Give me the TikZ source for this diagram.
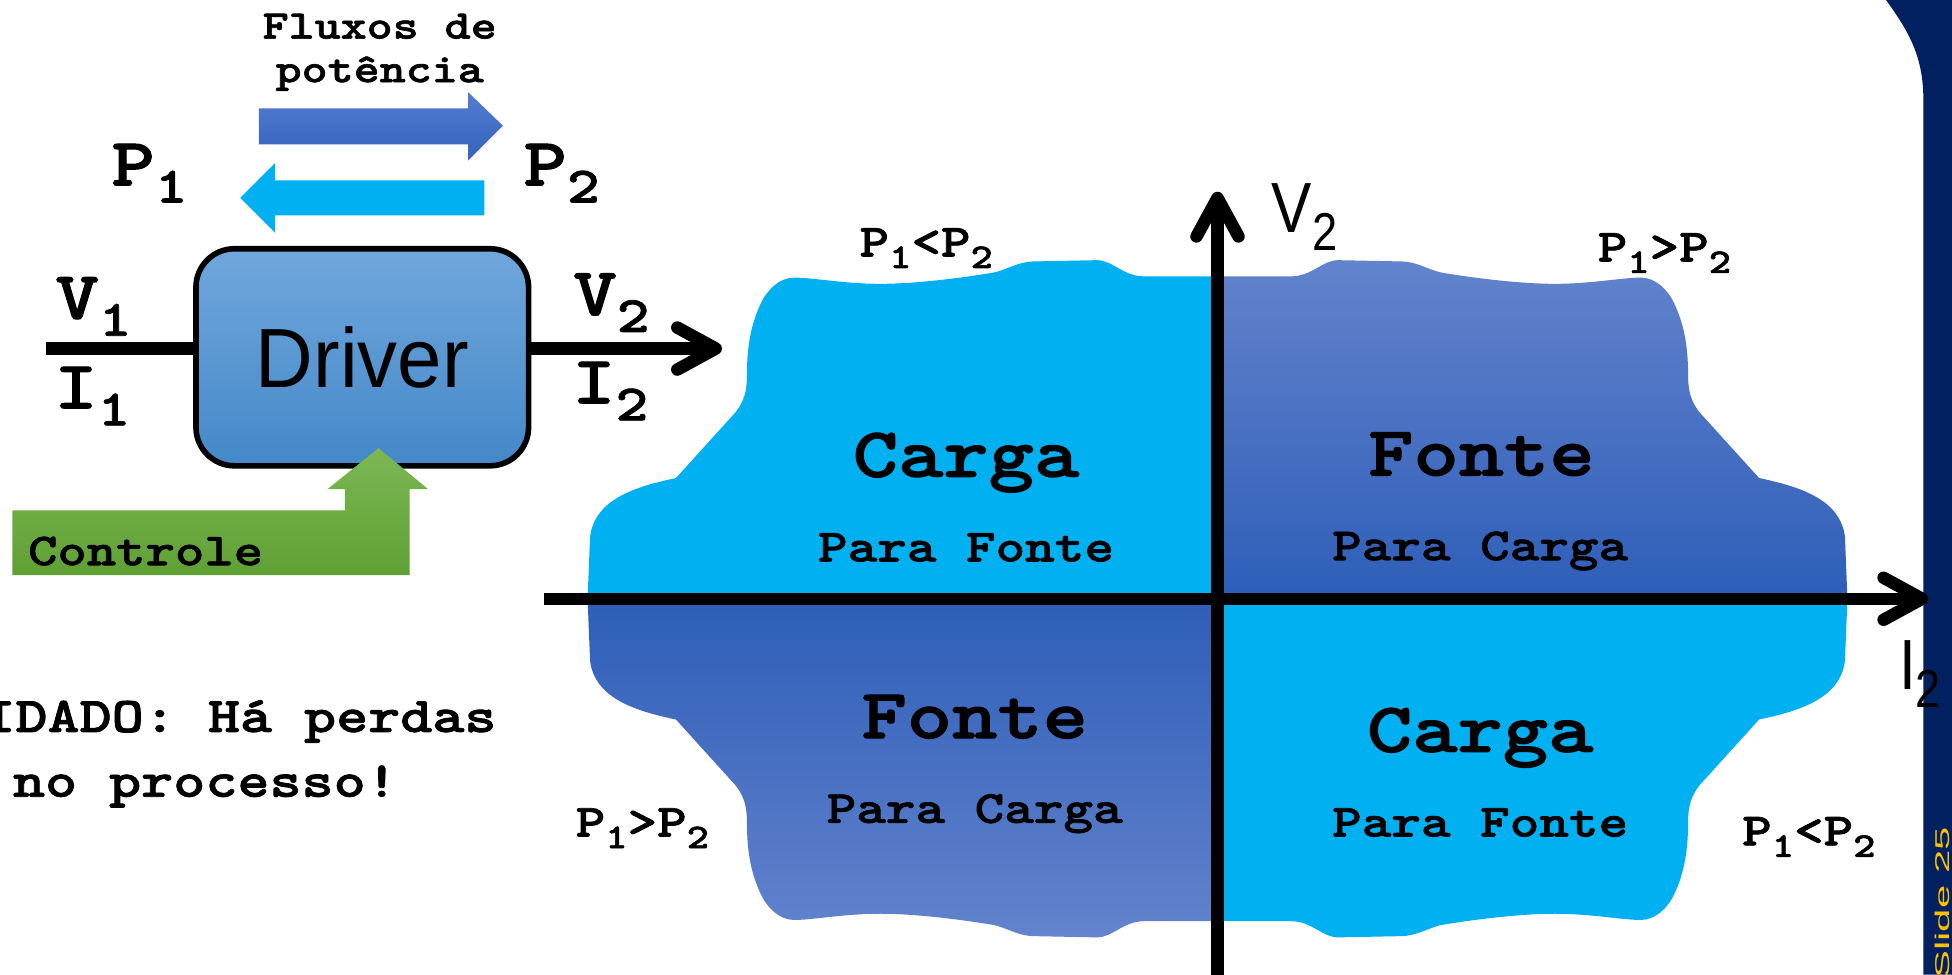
\documentclass[tikz,border=0pt]{standalone}
\usepackage{fontspec}
\usepackage{graphicx}
\usetikzlibrary{arrows.meta}
\newfontfamily\cour[BoldFont=lmmonolt10-bold.otf, BoldFeatures={FakeBold=1.5}, FakeStretch=1.22]{lmmono10-regular.otf}
\newfontfamily\drvfont[FakeStretch=0.95]{Liberation Sans}
\newfontfamily\axfont[FakeStretch=0.85]{Liberation Sans}
\newfontfamily\slidefont[FakeStretch=2.1]{Liberation Sans}
\newcommand\sbs[1]{\raisebox{-0.25em}{\scalebox{0.75}{#1}}}
\definecolor{cyanq}{RGB}{0,176,240}
\definecolor{blueTop}{RGB}{99,131,205}
\definecolor{blueBot}{RGB}{46,94,184}
\definecolor{drvTop}{RGB}{112,167,220}
\definecolor{drvBot}{RGB}{68,136,200}
\definecolor{grnTop}{RGB}{124,183,84}
\definecolor{grnBot}{RGB}{95,160,52}
\definecolor{flowTop}{RGB}{82,125,208}
\definecolor{flowBot}{RGB}{55,98,190}
\definecolor{navy}{RGB}{0,32,96}
\definecolor{slideYel}{RGB}{255,192,0}
% one quarter of the operating region (first quadrant)
\def\quadpath{(0,0) -- (0,259) -- (59,259) .. controls (76,259) and (84,272) .. (97,272)
  -- (147,271) .. controls (160,271) and (170,264) .. (180,262)
  .. controls (210,257) and (245,253) .. (271,253) .. controls (300,253) and (325,258) .. (340,258)
  .. controls (352,258) and (362,248) .. (367,237) .. controls (374,222) and (378,205) .. (378,180)
  .. controls (378,165) and (381,158) .. (387,150) -- (435,97)
  .. controls (468,90) and (500,80) .. (504,50) -- (506,0) -- cycle}

\begin{document}
\begin{tikzpicture}[
    x=0.0125cm, y=-0.0125cm,
    txt/.style={inner sep=0pt, anchor=base, font=\cour\bfseries\fontsize{#1}{#1}\selectfont},
    sig/.style={txt=19.4, anchor=base west},
    quadbig/.style={txt=20.2},
    quadsub/.style={txt=13.2},
    rel/.style={txt=13.2},
    axislbl/.style={inner sep=0pt, anchor=base west, font=\axfont\fontsize{20.3}{20.3}\selectfont},
    wire/.style={line width=3.56pt},
    axisline/.style={line width=3.56pt, -{Straight Barb[length=11pt,width=12pt,round]}},
    drvbox/.style={draw, line width=1.6pt, rounded corners=11pt, minimum width=95pt, minimum height=62pt,
      top color=drvTop, bottom color=drvBot, font=\drvfont\fontsize{24}{24}\selectfont},
  ]
    \useasboundingbox (0,0) rectangle (1568,783);
    \clip (0,0) rectangle (1568,783);
    \fill[white] (0,0) rectangle (1568,783);

    % Slide band
    \fill[navy] (1515,0) .. controls (1533,25) and (1545,45) .. (1545,80) -- (1545,783) -- (1568,783) -- (1568,0) -- cycle;
    \node[inner sep=0pt, rotate=90, anchor=base east, text=slideYel, font=\slidefont\fontsize{5.7}{5.7}\selectfont] (slide) at (1566,664) {Slide 25};

    % Quadrants
    \begin{scope}[shift={(978,481)}, yscale=-1]
      \shade[top color=blueTop, bottom color=blueBot] \quadpath;
    \end{scope}
    \begin{scope}[shift={(978,481)}, xscale=-1, yscale=-1]
      \fill[cyanq] \quadpath;
    \end{scope}
    \begin{scope}[shift={(978,481)}]
      \fill[cyanq] \quadpath;
    \end{scope}
    \begin{scope}[shift={(978,481)}, xscale=-1]
      \shade[top color=blueBot, bottom color=blueTop] \quadpath;
    \end{scope}

    % Axes
    \coordinate (hl) at (437,481);
    \coordinate (hr) at (1549,481);
    \coordinate (vb) at (978,800);
    \coordinate (vt) at (978,154);
    \draw[axisline] (hl) -- (hr);
    \draw[axisline] (vb) -- (vt);
    \node[axislbl] (vax) at (1021,187) {V\sbs{2}};
    \node[axislbl] (iax) at (1525,554) {I\sbs{2}};

    % Quadrant texts
    \node[quadbig] (cargaTL) at (776,383) {Carga};
    \node[quadsub] (paraTL) at (776,451) {Para Fonte};
    \node[quadbig] (fonteTR) at (1190,382) {Fonte};
    \node[quadsub] (paraTR) at (1189,450) {Para Carga};
    \node[quadbig] (fonteBL) at (783,593) {Fonte};
    \node[quadsub] (paraBL) at (783,661) {Para Carga};
    \node[quadbig] (cargaBR) at (1189,604) {Carga};
    \node[quadsub] (paraBR) at (1189,672) {Para Fonte};

    \node[rel] (relTL) at (744,206) {P\sbs{1}<P\sbs{2}};
    \node[rel] (relTR) at (1337,210) {P\sbs{1}>P\sbs{2}};
    \node[rel] (relBL) at (516,672) {P\sbs{1}>P\sbs{2}};
    \node[rel] (relBR) at (1453,679) {P\sbs{1}<P\sbs{2}};

    % Power flow
    \node[txt=11.6] (flux1) at (305,31) {Fluxos de};
    \node[txt=11.6] (flux2) at (305,66) {potência};
    \shade[top color=flowTop, bottom color=flowBot] (208,87) -- (376,87) -- (376,74) -- (404,101) -- (376,129) -- (376,116) -- (208,116) -- cycle;
    \fill[cyanq] (193,159) -- (221,131) -- (221,145) -- (389,145) -- (389,173) -- (221,173) -- (221,187) -- cycle;

    % Driver
    \node[drvbox] (driver) at (291,287) {Driver};
    \coordinate (win) at (37,280);
    \coordinate (wout) at (580,280);
    \draw[wire] (win) -- (win -| driver.west);
    \draw[wire, -{Straight Barb[length=11pt,width=12pt,round]}] (wout -| driver.east) -- (wout);

    \node[sig] (p1) at (89,149) {P\sbs{1}};
    \node[sig] (p2) at (420,149) {P\sbs{2}};
    \node[sig] (v1) at (44,256) {V\sbs{1}};
    \node[sig] (i1) at (43,328) {I\sbs{1}};
    \node[sig] (v2) at (460,253) {V\sbs{2}};
    \node[sig] (i2) at (459,324) {I\sbs{2}};

    % Control
    \shade[top color=grnTop, bottom color=grnBot] (10,462) -- (10,410) -- (277,410) -- (277,393) -- (263,393) -- (304,360) -- (344,393) -- (329,393) -- (329,462) -- cycle;
    \node[txt=13.1, anchor=base west] (ctrl) at (22,454) {Controle};

    % Warning
    \node[txt=14.3] (warn1) at (167,588) {CUIDADO: Há perdas};
    \node[txt=14.3] (warn2) at (165,640) {no processo!};
\end{tikzpicture}
\end{document}
